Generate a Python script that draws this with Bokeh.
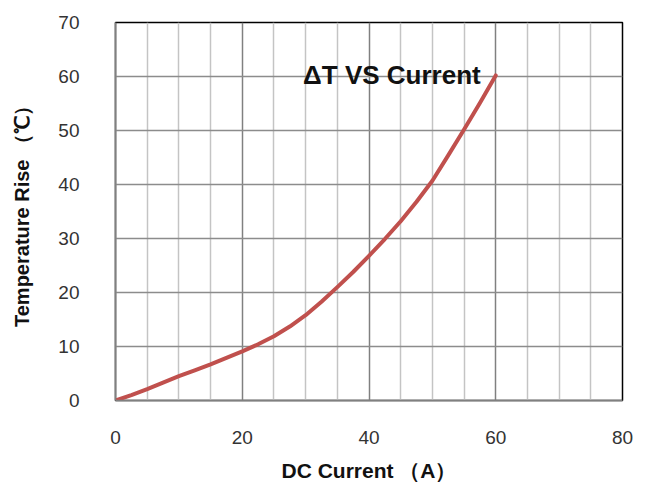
from bokeh.plotting import figure
from bokeh.models import FixedTicker, Range1d, Label
from bokeh.embed import file_html
from bokeh.resources import INLINE

current = [0, 2.5, 5, 7.5, 10, 12.5, 15, 17.5, 20, 22.5, 25, 27.5, 30, 32.5,
           35, 37.5, 40, 42.5, 45, 47.5, 50, 52.5, 55, 57.5, 60]
temp_rise = [0, 1.0, 2.1, 3.3, 4.5, 5.6, 6.7, 7.9, 9.1, 10.4, 11.9, 13.7, 15.8, 18.3,
             21.0, 23.8, 26.8, 29.9, 33.2, 36.8, 40.7, 45.4, 50.2, 55.1, 60.2]
x_ticks = [0, 20, 40, 60, 80]
x_minor = [5, 10, 15, 25, 30, 35, 45, 50, 55, 65, 70, 75]
y_ticks = [0, 10, 20, 30, 40, 50, 60, 70]
title_text = "ΔT VS Current"

p = figure(width=653, height=480, output_backend="svg", toolbar_location=None,
           x_range=Range1d(0, 80), y_range=Range1d(0, 70),
           frame_width=507, frame_height=378,
           min_border_left=115, min_border_right=31, min_border_top=22, min_border_bottom=80)

p.line(current, temp_rise, line_color="#c0504d", line_width=4, line_join="round", line_cap="round")

p.xaxis.ticker = FixedTicker(ticks=x_ticks, minor_ticks=x_minor)
p.yaxis.ticker = FixedTicker(ticks=y_ticks)
p.xgrid.grid_line_color = "#808080"
p.xgrid.grid_line_width = 1.5
p.xgrid.minor_grid_line_color = "#c4c4c4"
p.xgrid.minor_grid_line_width = 1.5
p.ygrid.grid_line_color = "#8c8c8c"
p.ygrid.grid_line_width = 1.5

for ax in (p.xaxis, p.yaxis):
    ax.axis_line_color = "#808080"
    ax.axis_line_width = 1.5
    ax.major_tick_line_color = None
    ax.minor_tick_line_color = None
    ax.major_label_text_font = "Liberation Sans"
    ax.major_label_text_font_size = "19px"
    ax.major_label_text_color = "#333333"
    ax.axis_label_text_font = "Liberation Sans"
    ax.axis_label_text_font_style = "bold"
    ax.axis_label_text_color = "#111111"

p.xaxis.axis_label_text_font_size = "21px"
p.yaxis.axis_label_text_font_size = "20px"
p.xaxis.major_label_standoff = 24
p.yaxis.major_label_standoff = 30
p.xaxis.axis_label = "DC Current （A）"
p.yaxis.axis_label = "Temperature Rise （℃）"
p.xaxis.axis_label_standoff = 12
p.yaxis.axis_label_standoff = 22

p.outline_line_color = "black"
p.outline_line_width = 1.5

p.add_layout(Label(x=29.6, y=60.2, text=title_text, text_font="Liberation Sans",
                   text_font_style="bold", text_font_size="26px", text_color="#111111",
                   text_baseline="alphabetic", text_align="left"))

open("out.html", "w").write(file_html(p, INLINE))
